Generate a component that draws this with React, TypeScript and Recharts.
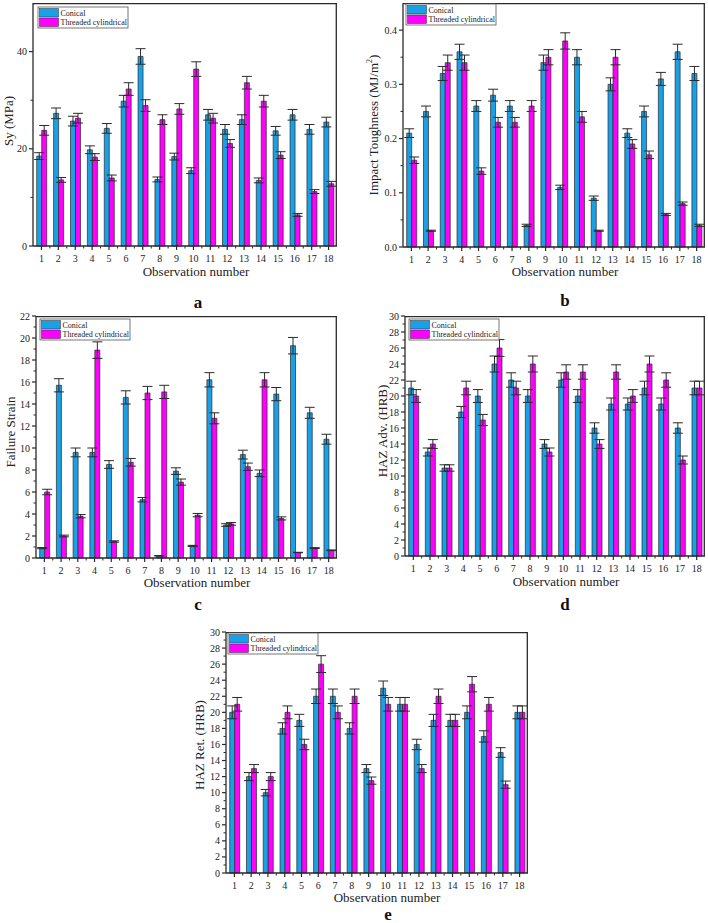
import React from "react";
import { BarChart, Bar, XAxis, YAxis, ErrorBar } from "recharts";

const observations = ["1", "2", "3", "4", "5", "6", "7", "8", "9", "10", "11", "12", "13", "14", "15", "16", "17", "18"];

// a - yield strength Sy (MPa)
const syConical = [18.5, 27.3, 25.7, 19.8, 24.2, 29.8, 39, 13.7, 18.4, 15.5, 27, 24, 26, 13.5, 23.7, 27, 24, 25.5];
const syConicalErr = [0.7, 1.1, 1.0, 0.8, 1.0, 1.2, 1.6, 0.5, 0.7, 0.6, 1.1, 1.0, 1.0, 0.5, 0.9, 1.1, 1.0, 1.0];
const syThreaded = [23.8, 13.6, 26.3, 18.3, 14, 32.3, 28.9, 26, 28.2, 36.4, 26.3, 21.1, 33.6, 29.8, 18.7, 6.4, 11.2, 12.8];
const syThreadedErr = [1.0, 0.5, 1.0, 0.7, 0.6, 1.3, 1.2, 1.0, 1.1, 1.5, 1.0, 0.8, 1.3, 1.2, 0.7, 0.3, 0.4, 0.5];

// b - impact toughness (MJ/m2)
const itConical = [0.21, 0.25, 0.32, 0.36, 0.26, 0.28, 0.26, 0.04, 0.34, 0.11, 0.35, 0.09, 0.3, 0.21, 0.25, 0.31, 0.36, 0.32];
const itConicalErr = [0.008, 0.01, 0.013, 0.014, 0.01, 0.011, 0.01, 0.002, 0.014, 0.004, 0.014, 0.004, 0.012, 0.008, 0.01, 0.012, 0.014, 0.013];
const itThreaded = [0.16, 0.03, 0.34, 0.34, 0.14, 0.23, 0.23, 0.26, 0.35, 0.38, 0.24, 0.03, 0.35, 0.19, 0.17, 0.06, 0.08, 0.04];
const itThreadedErr = [0.006, 0.001, 0.014, 0.014, 0.006, 0.009, 0.009, 0.01, 0.014, 0.015, 0.01, 0.001, 0.014, 0.008, 0.007, 0.002, 0.003, 0.002];

// c - failure strain
const fsConical = [0.9, 15.7, 9.6, 9.6, 8.5, 14.6, 5.3, 0.2, 7.9, 1.1, 16.2, 3.0, 9.4, 7.7, 14.9, 19.3, 13.2, 10.8];
const fsConicalErr = [0.05, 0.6, 0.4, 0.4, 0.35, 0.6, 0.2, 0.02, 0.3, 0.05, 0.65, 0.12, 0.4, 0.3, 0.6, 0.75, 0.5, 0.45];
const fsThreaded = [6.0, 2.0, 3.8, 18.9, 1.5, 8.7, 15.0, 15.1, 6.9, 3.9, 12.7, 3.1, 8.3, 16.2, 3.6, 0.5, 0.9, 0.7];
const fsThreadedErr = [0.25, 0.08, 0.15, 0.75, 0.06, 0.35, 0.6, 0.6, 0.28, 0.15, 0.5, 0.12, 0.33, 0.65, 0.14, 0.02, 0.04, 0.03];

// d - HAZ advancing side hardness (HRB)
const advConical = [21, 13, 11, 18, 20, 24, 22, 20, 14, 22, 20, 16, 19, 19, 21, 19, 16, 21];
const advConicalErr = [0.85, 0.5, 0.4, 0.7, 0.8, 1.0, 0.9, 0.8, 0.55, 0.9, 0.8, 0.65, 0.75, 0.75, 0.85, 0.75, 0.65, 0.85];
const advThreaded = [20, 14, 11, 21, 17, 26, 21, 24, 13, 23, 23, 14, 23, 20, 24, 22, 12, 21];
const advThreadedErr = [0.8, 0.55, 0.4, 0.85, 0.7, 1.05, 0.85, 1.0, 0.5, 0.9, 0.9, 0.55, 0.9, 0.8, 1.0, 0.9, 0.5, 0.85];

// e - HAZ retreating side hardness (HRB)
const retConical = [20, 12, 10, 18, 19, 22, 22, 18, 13, 23, 21, 16, 19, 19, 20, 17, 15, 20];
const retConicalErr = [0.8, 0.5, 0.4, 0.7, 0.75, 0.9, 0.9, 0.7, 0.5, 0.9, 0.85, 0.65, 0.75, 0.75, 0.8, 0.7, 0.6, 0.8];
const retThreaded = [21, 13, 12, 20, 16, 26, 20, 22, 11.5, 21, 21, 13, 22, 19, 23.5, 21, 11, 20];
const retThreadedErr = [0.85, 0.5, 0.5, 0.8, 0.65, 1.05, 0.8, 0.9, 0.45, 0.85, 0.85, 0.5, 0.9, 0.75, 0.95, 0.85, 0.45, 0.8];

// y ticks
const syTicks = [0, 10, 20, 30, 40];
const syMajor = [0, 20, 40];
const itTicks = [0, 0.05, 0.1, 0.15, 0.2, 0.25, 0.3, 0.35, 0.4];
const itMajor = [0, 0.1, 0.2, 0.3, 0.4];
const fsTicks = [0, 1, 2, 3, 4, 5, 6, 7, 8, 9, 10, 11, 12, 13, 14, 15, 16, 17, 18, 19, 20, 21, 22];
const fsMajor = [0, 2, 4, 6, 8, 10, 12, 14, 16, 18, 20, 22];
const hTicks = [0, 1, 2, 3, 4, 5, 6, 7, 8, 9, 10, 11, 12, 13, 14, 15, 16, 17, 18, 19, 20, 21, 22, 23, 24, 25, 26, 27, 28, 29, 30];
const hMajor = [0, 2, 4, 6, 8, 10, 12, 14, 16, 18, 20, 22, 24, 26, 28, 30];

const BLUE = "#1aa0e6";
const MAGENTA = "#ff00ff";
const INK = "#2a2a2a";
const FONT = '"Liberation Serif", "Times New Roman", serif';

const PAD_L = 32;
const PAD_T = 4;
const PAD_R = 3;
const PAD_B = 26;

type Box = [number, number, number, number];
const boxA: Box = [33, 3, 337, 246];
const boxB: Box = [403, 3, 705, 247];
const boxC: Box = [36, 316, 337, 558];
const boxD: Box = [405, 316, 705, 556];
const boxE: Box = [226, 632, 528, 873];

const XTick = (props: any) => {
  const { x, y, payload, index, band } = props;
  return (
    <g>
      <line x1={x} x2={x} y1={y} y2={y + 4} stroke={INK} strokeWidth={1.2} />
      {index < observations.length - 1 && (
        <line x1={x + band / 2} x2={x + band / 2} y1={y} y2={y + 2.5} stroke={INK} />
      )}
      <text x={x} y={y + 16} textAnchor="middle" fontSize={10} fontFamily={FONT} fill="#222">
        {payload.value}
      </text>
    </g>
  );
};

const YTick = (props: any) => {
  const { x, y, payload, majors, fmt } = props;
  const major = majors.includes(payload.value);
  return (
    <g>
      <line x1={x - (major ? 4 : 2.5)} x2={x} y1={y} y2={y} stroke={INK} strokeWidth={major ? 1.2 : 1} />
      {major && (
        <text x={x - 6} y={y} dy={3.5} textAnchor="end" fontSize={10} fontFamily={FONT} fill="#222">
          {fmt(payload.value)}
        </text>
      )}
    </g>
  );
};

interface PanelProps {
  box: Box;
  conical: number[];
  conicalErr: number[];
  threaded: number[];
  threadedErr: number[];
  domain: [number, number];
  ticks: number[];
  majors: number[];
  fmt: (v: number) => string;
}

const Panel = ({ box, conical, conicalErr, threaded, threadedErr, domain, ticks, majors, fmt }: PanelProps) => {
  const [x0, y0, x1, y1] = box;
  const w = x1 - x0;
  const h = y1 - y0;
  const band = w / observations.length;
  const rows = observations.map((obs, i) => ({
    obs,
    conical: conical[i],
    conicalErr: conicalErr[i],
    threaded: threaded[i],
    threadedErr: threadedErr[i],
  }));
  return (
    <div style={{ position: "absolute", left: x0 - PAD_L, top: y0 - PAD_T }}>
      <BarChart
        width={w + PAD_L + PAD_R}
        height={h + PAD_T + PAD_B}
        data={rows}
        margin={{ top: PAD_T, right: PAD_R, bottom: 0, left: 0 }}
        barCategoryGap="22%"
        barGap={0}
      >
        <XAxis
          dataKey="obs"
          interval={0}
          height={PAD_B}
          tickSize={0}
          tickMargin={0}
          tickLine={false}
          axisLine={{ stroke: INK, strokeWidth: 1.3 }}
          tick={(p: any) => <XTick {...p} band={band} />}
        />
        <YAxis
          type="number"
          domain={domain}
          ticks={ticks}
          interval={0}
          width={PAD_L}
          tickSize={0}
          tickMargin={0}
          tickLine={false}
          axisLine={{ stroke: INK, strokeWidth: 1.3 }}
          tick={(p: any) => <YTick {...p} majors={majors} fmt={fmt} />}
        />
        <Bar dataKey="conical" fill={BLUE} stroke={INK} strokeWidth={0.7} isAnimationActive={false}>
          <ErrorBar dataKey="conicalErr" width={5} stroke={INK} strokeWidth={1} />
        </Bar>
        <Bar dataKey="threaded" fill={MAGENTA} stroke={INK} strokeWidth={0.7} isAnimationActive={false}>
          <ErrorBar dataKey="threadedErr" width={5} stroke={INK} strokeWidth={1} />
        </Bar>
      </BarChart>
    </div>
  );
};

// top and right edges of a plot frame
const Frame = ({ box }: { box: Box }) => {
  const [x0, y0, x1, y1] = box;
  return (
    <polyline
      points={`${x0},${y0 + 0.7} ${x1 - 0.7},${y0 + 0.7} ${x1 - 0.7},${y1}`}
      fill="none"
      stroke={INK}
      strokeWidth={1.3}
    />
  );
};

const LegendBox = ({ x, y }: { x: number; y: number }) => (
  <g>
    <rect x={x} y={y} width={90} height={21} fill="#fff" stroke="#555" strokeWidth={0.8} />
    <rect x={x + 1.5} y={y + 1.5} width={19} height={8.5} fill={BLUE} stroke={INK} strokeWidth={0.5} />
    <rect x={x + 1.5} y={y + 11} width={19} height={8.5} fill={MAGENTA} stroke={INK} strokeWidth={0.5} />
    <text x={x + 22.5} y={y + 8.8} fontSize={8} fontFamily={FONT} fill="#222">Conical</text>
    <text x={x + 22.5} y={y + 18.3} fontSize={8} fontFamily={FONT} fill="#222">Threaded cylindrical</text>
  </g>
);

const YTitle = ({ x, y, children }: { x: number; y: number; children: React.ReactNode }) => (
  <text
    x={x}
    y={y}
    transform={`rotate(-90 ${x} ${y})`}
    textAnchor="middle"
    dominantBaseline="central"
    fontSize={13}
    fontFamily={FONT}
    fill="#222"
  >
    {children}
  </text>
);

const XTitle = ({ x, y }: { x: number; y: number }) => (
  <text x={x} y={y} textAnchor="middle" fontSize={13} fontFamily={FONT} fill="#222">
    Observation number
  </text>
);

const Letter = ({ x, y, t }: { x: number; y: number; t: string }) => (
  <text x={x} y={y} textAnchor="middle" fontSize={17} fontWeight="bold" fontFamily={FONT} fill="#111">
    {t}
  </text>
);

const intFmt = (v: number) => String(v);
const oneDec = (v: number) => v.toFixed(1);

export default function App() {
  return (
    <div style={{ position: "absolute", left: 0, top: 0, width: 708, height: 923, overflow: "hidden", background: "#fff" }}>
      <Panel box={boxA} conical={syConical} conicalErr={syConicalErr} threaded={syThreaded} threadedErr={syThreadedErr} domain={[0, 50]} ticks={syTicks} majors={syMajor} fmt={intFmt} />
      <Panel box={boxB} conical={itConical} conicalErr={itConicalErr} threaded={itThreaded} threadedErr={itThreadedErr} domain={[0, 0.45]} ticks={itTicks} majors={itMajor} fmt={oneDec} />
      <Panel box={boxC} conical={fsConical} conicalErr={fsConicalErr} threaded={fsThreaded} threadedErr={fsThreadedErr} domain={[0, 22]} ticks={fsTicks} majors={fsMajor} fmt={intFmt} />
      <Panel box={boxD} conical={advConical} conicalErr={advConicalErr} threaded={advThreaded} threadedErr={advThreadedErr} domain={[0, 30]} ticks={hTicks} majors={hMajor} fmt={intFmt} />
      <Panel box={boxE} conical={retConical} conicalErr={retConicalErr} threaded={retThreaded} threadedErr={retThreadedErr} domain={[0, 30]} ticks={hTicks} majors={hMajor} fmt={intFmt} />
      <svg width={708} height={923} style={{ position: "absolute", left: 0, top: 0, pointerEvents: "none" }}>
        <Frame box={boxA} />
        <Frame box={boxB} />
        <Frame box={boxC} />
        <Frame box={boxD} />
        <Frame box={boxE} />

        <LegendBox x={38} y={7} />
        <LegendBox x={406} y={4} />
        <LegendBox x={40} y={319} />
        <LegendBox x={409} y={319} />
        <LegendBox x={228} y={633} />

        <YTitle x={8} y={121}>Sy (MPa)</YTitle>
        <YTitle x={373} y={125}>
          Impact Toughness (MJ/m<tspan dy={-4} fontSize={8}>2</tspan>
          <tspan dy={4}>)</tspan>
        </YTitle>
        <YTitle x={10} y={432}>Failure Strain</YTitle>
        <YTitle x={382} y={431}>HAZ Adv. (HRB)</YTitle>
        <YTitle x={199} y={745}>HAZ Ret. (HRB)</YTitle>

        <XTitle x={196} y={276} />
        <XTitle x={565} y={276} />
        <XTitle x={197} y={587} />
        <XTitle x={566} y={586} />
        <XTitle x={387} y={902} />

        <Letter x={198} y={308} t="a" />
        <Letter x={565} y={306} t="b" />
        <Letter x={198} y={610} t="c" />
        <Letter x={565} y={610} t="d" />
        <Letter x={388} y={920} t="e" />
      </svg>
    </div>
  );
}
